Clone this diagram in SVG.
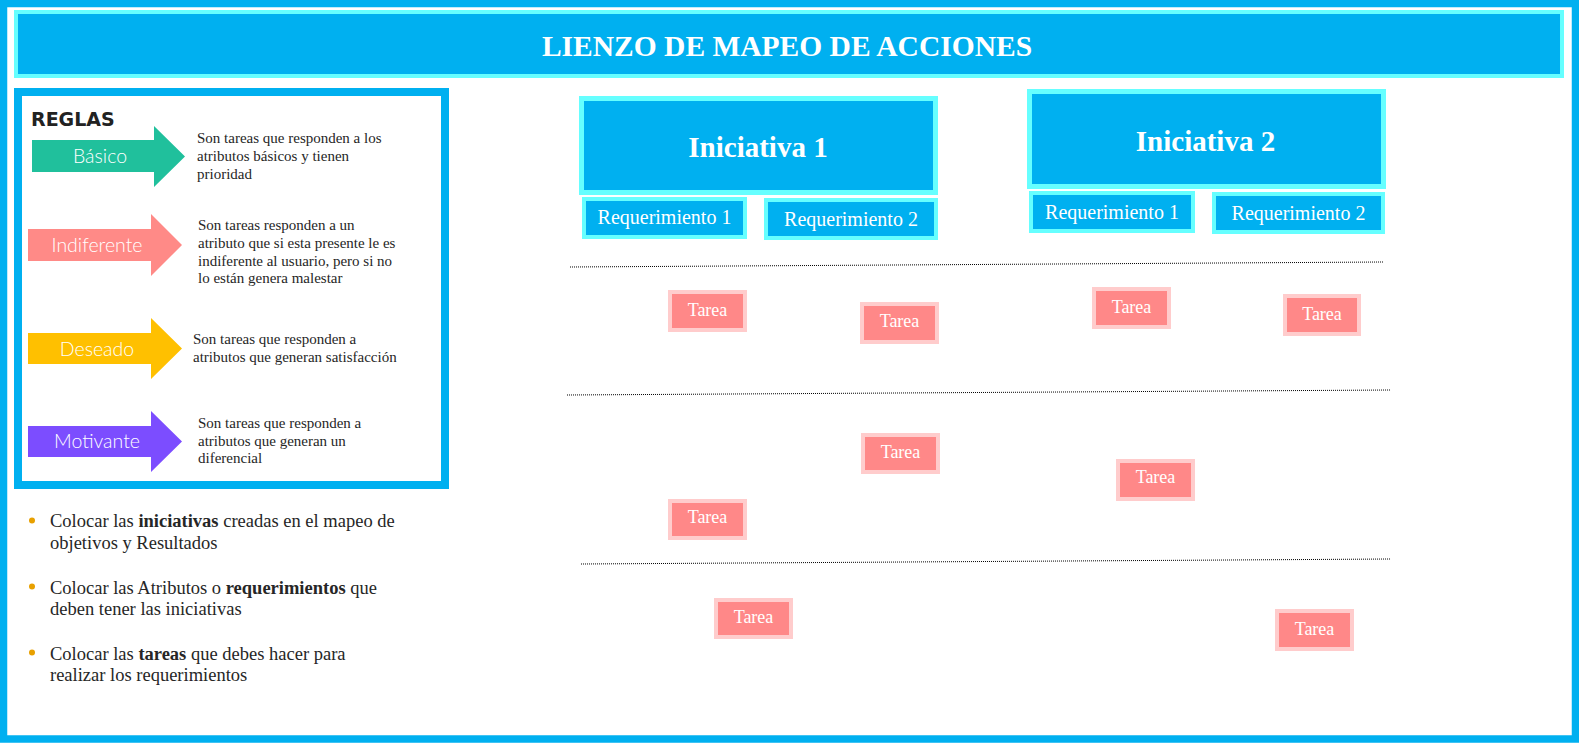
<svg xmlns="http://www.w3.org/2000/svg" width="1579" height="743" viewBox="0 0 1579 743">
<style>
.serif{font-family:"Liberation Serif","Times New Roman",serif}
.desc{font-family:"Liberation Serif","Times New Roman",serif;font-size:15px;fill:#262626}
.bul{font-family:"Liberation Serif","Times New Roman",serif;font-size:18.5px;fill:#262626}
.arrowlbl{font-family:Lato,"Open Sans",sans-serif;font-weight:300;font-size:19.5px;fill:#ffffff;text-anchor:middle}
.ini{fill:#00B0F0;stroke:#66FFFF;stroke-width:5}
.req{fill:#00B0F0;stroke:#66FFFF;stroke-width:4}
.reqt{font-family:"Liberation Serif","Times New Roman",serif;font-size:20px;fill:#ffffff;text-anchor:middle}
.tar{fill:#FF8888;stroke:#FFCCCC;stroke-width:4}
.tart{font-family:"Liberation Serif","Times New Roman",serif;font-size:18px;fill:#ffffff;text-anchor:middle}
.sep{stroke:#000;stroke-width:1;stroke-dasharray:1 1;fill:none}
</style>
<rect x="0" y="0" width="1579" height="743" fill="#ffffff"/>
<rect id="frame" x="3.5" y="3.5" width="1572" height="735.5" fill="none" stroke="#00B0F0" stroke-width="7.5"/>
<g id="title">
<rect x="16" y="12" width="1546" height="64" fill="#00B0F0" stroke="#66FFFF" stroke-width="4"/>
<text x="787" y="56" class="serif" font-size="29.5" font-weight="bold" fill="#ffffff" text-anchor="middle">LIENZO DE MAPEO DE ACCIONES</text>
</g>
<g id="reglas">
<rect x="18" y="92" width="427" height="393" fill="#ffffff" stroke="#00B0F0" stroke-width="8"/>
<text x="31" y="126" font-family="'DejaVu Sans',sans-serif" font-weight="bold" font-size="19" fill="#222222">REGLAS</text>
</g>
<g id="basico">
<polygon points="32,140 154,140 154,126 185,156.5 154,187 154,172 32,172" fill="#20C09C"/>
<text x="100" y="163" class="arrowlbl">Básico</text>
<text class="desc"><tspan x="197" y="143">Son tareas que responden a los</tspan><tspan x="197" y="161">atributos básicos y tienen</tspan><tspan x="197" y="179">prioridad</tspan></text>
</g>
<g id="indiferente">
<polygon points="28,229 151,229 151,214 182,245 151,276 151,261 28,261" fill="#FF8A87"/>
<text x="97" y="252" class="arrowlbl">Indiferente</text>
<text class="desc"><tspan x="198" y="230">Son tareas responden a un</tspan><tspan x="198" y="248">atributo que si esta presente le es</tspan><tspan x="198" y="265.5">indiferente al usuario, pero si no</tspan><tspan x="198" y="283">lo están genera malestar</tspan></text>
</g>
<g id="deseado">
<polygon points="28,333 151,333 151,318 182,348.5 151,379 151,364 28,364" fill="#FFC000"/>
<text x="97" y="356" class="arrowlbl">Deseado</text>
<text class="desc"><tspan x="193" y="344">Son tareas que responden a</tspan><tspan x="193" y="361.5">atributos que generan satisfacción</tspan></text>
</g>
<g id="motivante">
<polygon points="28,426 151,426 151,411 182,441.5 151,472 151,457 28,457" fill="#7C4DFF"/>
<text x="97" y="448" class="arrowlbl">Motivante</text>
<text class="desc"><tspan x="198" y="427.5">Son tareas que responden a</tspan><tspan x="198" y="445.5">atributos que generan un</tspan><tspan x="198" y="463">diferencial</tspan></text>
</g>
<g id="instrucciones">
<circle cx="32" cy="520.5" r="3" fill="#E8A000"/>
<circle cx="32" cy="586.5" r="3" fill="#E8A000"/>
<circle cx="32" cy="652.5" r="3" fill="#E8A000"/>
<text class="bul"><tspan x="50" y="527">Colocar las <tspan font-weight="bold">iniciativas</tspan> creadas en el mapeo de</tspan><tspan x="50" y="549">objetivos y Resultados</tspan></text>
<text class="bul"><tspan x="50" y="594">Colocar las Atributos o <tspan font-weight="bold">requerimientos</tspan> que</tspan><tspan x="50" y="615">deben tener las iniciativas</tspan></text>
<text class="bul"><tspan x="50" y="660">Colocar las <tspan font-weight="bold">tareas</tspan> que debes hacer para</tspan><tspan x="50" y="681">realizar los requerimientos</tspan></text>
</g>
<g id="iniciativa1">
<rect x="581.5" y="98.5" width="354" height="94" class="ini"/>
<text x="758" y="157" class="serif" font-size="29" font-weight="bold" fill="#ffffff" text-anchor="middle">Iniciativa 1</text>
</g>
<g id="iniciativa2">
<rect x="1029.5" y="91.5" width="354" height="95" class="ini"/>
<text x="1205.5" y="151" class="serif" font-size="29" font-weight="bold" fill="#ffffff" text-anchor="middle">Iniciativa 2</text>
</g>
<g id="i1-req1"><rect x="584" y="199" width="161" height="38" class="req"/><text x="664.5" y="224" class="reqt">Requerimiento 1</text></g>
<g id="i1-req2"><rect x="766" y="200" width="170" height="38" class="req"/><text x="851" y="226" class="reqt">Requerimiento 2</text></g>
<g id="i2-req1"><rect x="1031" y="193" width="162" height="38" class="req"/><text x="1112" y="219" class="reqt">Requerimiento 1</text></g>
<g id="i2-req2"><rect x="1214" y="194" width="169" height="38" class="req"/><text x="1298.5" y="220" class="reqt">Requerimiento 2</text></g>
<g id="separators">
<line x1="570" y1="267" x2="1383" y2="262" class="sep"/>
<line x1="567" y1="395" x2="1391" y2="390" class="sep"/>
<line x1="581" y1="564" x2="1391" y2="559" class="sep"/>
</g>
<g id="tarea1"><rect x="670" y="292" width="75" height="38" class="tar"/><text x="707.5" y="316" class="tart">Tarea</text></g>
<g id="tarea2"><rect x="862" y="304" width="75" height="38" class="tar"/><text x="899.5" y="327" class="tart">Tarea</text></g>
<g id="tarea3"><rect x="1094" y="289" width="75" height="38" class="tar"/><text x="1131.5" y="313" class="tart">Tarea</text></g>
<g id="tarea4"><rect x="1285" y="296" width="74" height="38" class="tar"/><text x="1322" y="320" class="tart">Tarea</text></g>
<g id="tarea5"><rect x="863" y="435" width="75" height="37" class="tar"/><text x="900.5" y="458" class="tart">Tarea</text></g>
<g id="tarea6"><rect x="1118" y="461" width="75" height="38" class="tar"/><text x="1155.5" y="483" class="tart">Tarea</text></g>
<g id="tarea7"><rect x="670" y="501" width="75" height="37" class="tar"/><text x="707.5" y="523" class="tart">Tarea</text></g>
<g id="tarea8"><rect x="716" y="600" width="75" height="37" class="tar"/><text x="753.5" y="623" class="tart">Tarea</text></g>
<g id="tarea9"><rect x="1277" y="611" width="75" height="38" class="tar"/><text x="1314.5" y="635" class="tart">Tarea</text></g>
</svg>
